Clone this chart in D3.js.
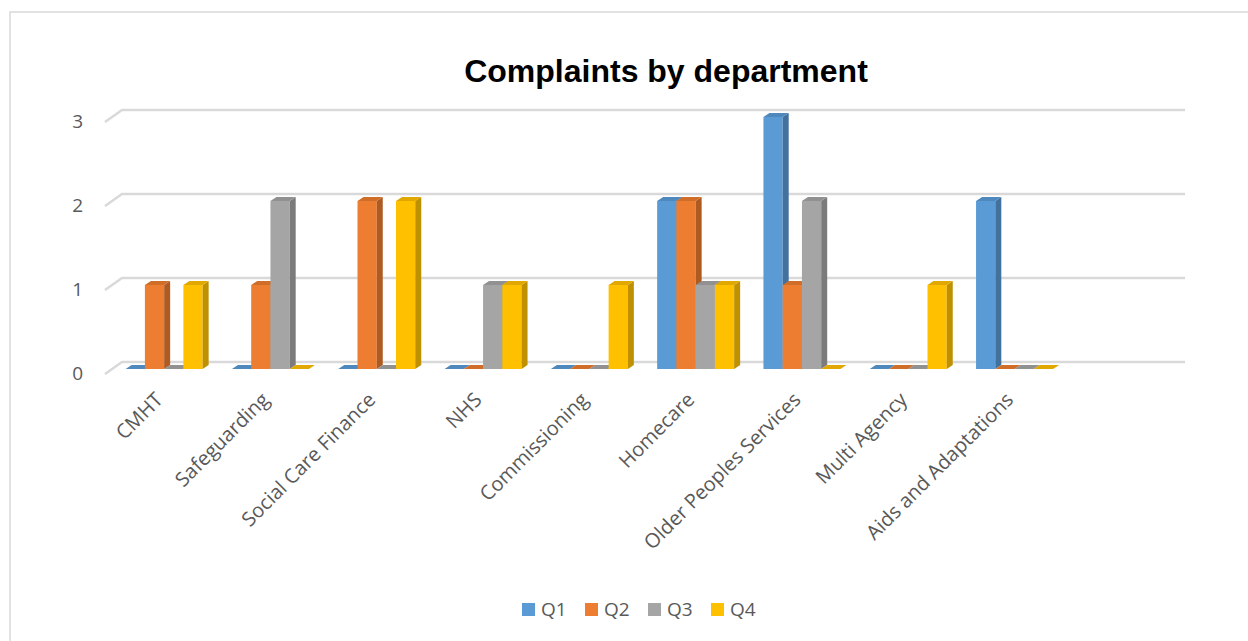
<!DOCTYPE html>
<html>
<head>
<meta charset="utf-8">
<script src="https://cdn.jsdelivr.net/npm/d3@7"></script>
<style>
  html, body { margin: 0; padding: 0; background: #fff; }
  svg { display: block; }
</style>
</head>
<body>
<svg id="chart" width="1248" height="641"></svg>
<script>
// ---- data ----
const categories = ["CMHT", "Safeguarding", "Social Care Finance", "NHS", "Commissioning",
  "Homecare", "Older Peoples Services", "Multi Agency", "Aids and Adaptations", ""];
const seriesNames = ["Q1", "Q2", "Q3", "Q4"];
const q1 = [0, 0, 0, 0, 0, 2, 3, 0, 2, null];
const q2 = [1, 1, 2, 0, 0, 2, 1, 0, 0, null];
const q3 = [0, 2, 0, 1, 0, 1, 2, 0, 0, null];
const q4 = [1, 0, 2, 1, 1, 1, 0, 1, 0, null];
const yTicks = [0, 1, 2, 3];
const chartTitle = "Complaints by department";

const seriesValues = [q1, q2, q3, q4];
const colors = ["#5B9BD5", "#ED7D31", "#A5A5A5", "#FFC000"];
const sideColors = ["#41719C", "#AE5A21", "#7B7B7B", "#BF9000"];
const topColors = ["#4F88BD", "#D06D29", "#919191", "#E0A800"];

const labelFont = "'Open Sans', 'Noto Sans', sans-serif";
const svg = d3.select("#chart");

// border
svg.append("rect").attr("x", 10).attr("y", 12).attr("width", 1300).attr("height", 700)
  .attr("fill", "none").attr("stroke", "#d9d9d9").attr("stroke-width", 1.5);

// title
svg.append("text").attr("x", 666).attr("y", 82).attr("text-anchor", "middle")
  .attr("font-family", "Liberation Sans, Arial, sans-serif").attr("font-weight", "bold")
  .attr("font-size", 32).attr("fill", "#000").text(chartTitle);

// scales (back wall plane)
const x0 = d3.scaleBand().domain(categories).range([122, 1185]).paddingInner(0).paddingOuter(0);
const groupW = 77;
const x1 = d3.scaleBand().domain(seriesNames).range([0, groupW]);
const y = d3.scaleLinear().domain([0, 3]).range([362, 110]);

// depth geometry
const floorDx = -17, floorDy = 12;   // back wall to front edge
const barDx = -11, barDy = 7;        // bar front face offset from back wall
const depX = 6, depY = -4;           // bar depth

// gridlines
const grid = svg.append("g");
yTicks.forEach(t => {
  const yy = y(t);
  grid.append("path")
    .attr("d", `M${122 + floorDx},${yy + floorDy} L122,${yy} L1185,${yy}`)
    .attr("fill", "none").attr("stroke", "#d9d9d9").attr("stroke-width", 2.5);
  grid.append("text").attr("x", 83).attr("y", yy + floorDy - 1)
    .attr("dy", "0.35em").attr("text-anchor", "end")
    .attr("font-family", labelFont).attr("font-size", 19)
    .attr("fill", "#595959").text(t);
});

// bars
const bars = svg.append("g");
categories.forEach((c, ci) => {
  seriesNames.forEach((s, si) => {
    const v = seriesValues[si][ci];
    if (v === null || v === undefined) return;
    const xl = x0(c) + (x0.bandwidth() - groupW) / 2 + x1(s) + barDx;
    const xr = xl + x1.bandwidth();
    const yb = y(0) + barDy;
    const yt = y(v) + barDy;
    const g = bars.append("g");
    if (v > 0) {
      g.append("rect").attr("x", xl).attr("y", yt).attr("width", xr - xl).attr("height", yb - yt)
        .attr("fill", colors[si]);
      g.append("path")
        .attr("d", `M${xr},${yt} L${xr + depX},${yt + depY} L${xr + depX},${yb + depY} L${xr},${yb} Z`)
        .attr("fill", sideColors[si]);
    }
    g.append("path")
      .attr("d", `M${xl},${yt} L${xl + depX},${yt + depY} L${xr + depX},${yt + depY} L${xr},${yt} Z`)
      .attr("fill", topColors[si]);
  });
});

// category labels
const labels = svg.append("g");
categories.forEach(c => {
  if (!c) return;
  const cx = x0(c) + x0.bandwidth() / 2 + barDx;
  labels.append("text")
    .attr("transform", `translate(${cx},${401}) rotate(-45)`)
    .attr("text-anchor", "end")
    .attr("font-family", labelFont).attr("font-size", 20)
    .attr("fill", "#595959").text(c);
});

// legend
const legend = svg.append("g");
const lx = d3.scalePoint().domain(seriesNames).range([522, 711]);
seriesNames.forEach((s, si) => {
  legend.append("rect").attr("x", lx(s)).attr("y", 603).attr("width", 13).attr("height", 13)
    .attr("fill", colors[si]);
  legend.append("text").attr("x", lx(s) + 19).attr("y", 609).attr("dy", "0.35em")
    .attr("font-family", labelFont).attr("font-size", 19)
    .attr("fill", "#595959").text(s);
});
</script>
</body>
</html>
